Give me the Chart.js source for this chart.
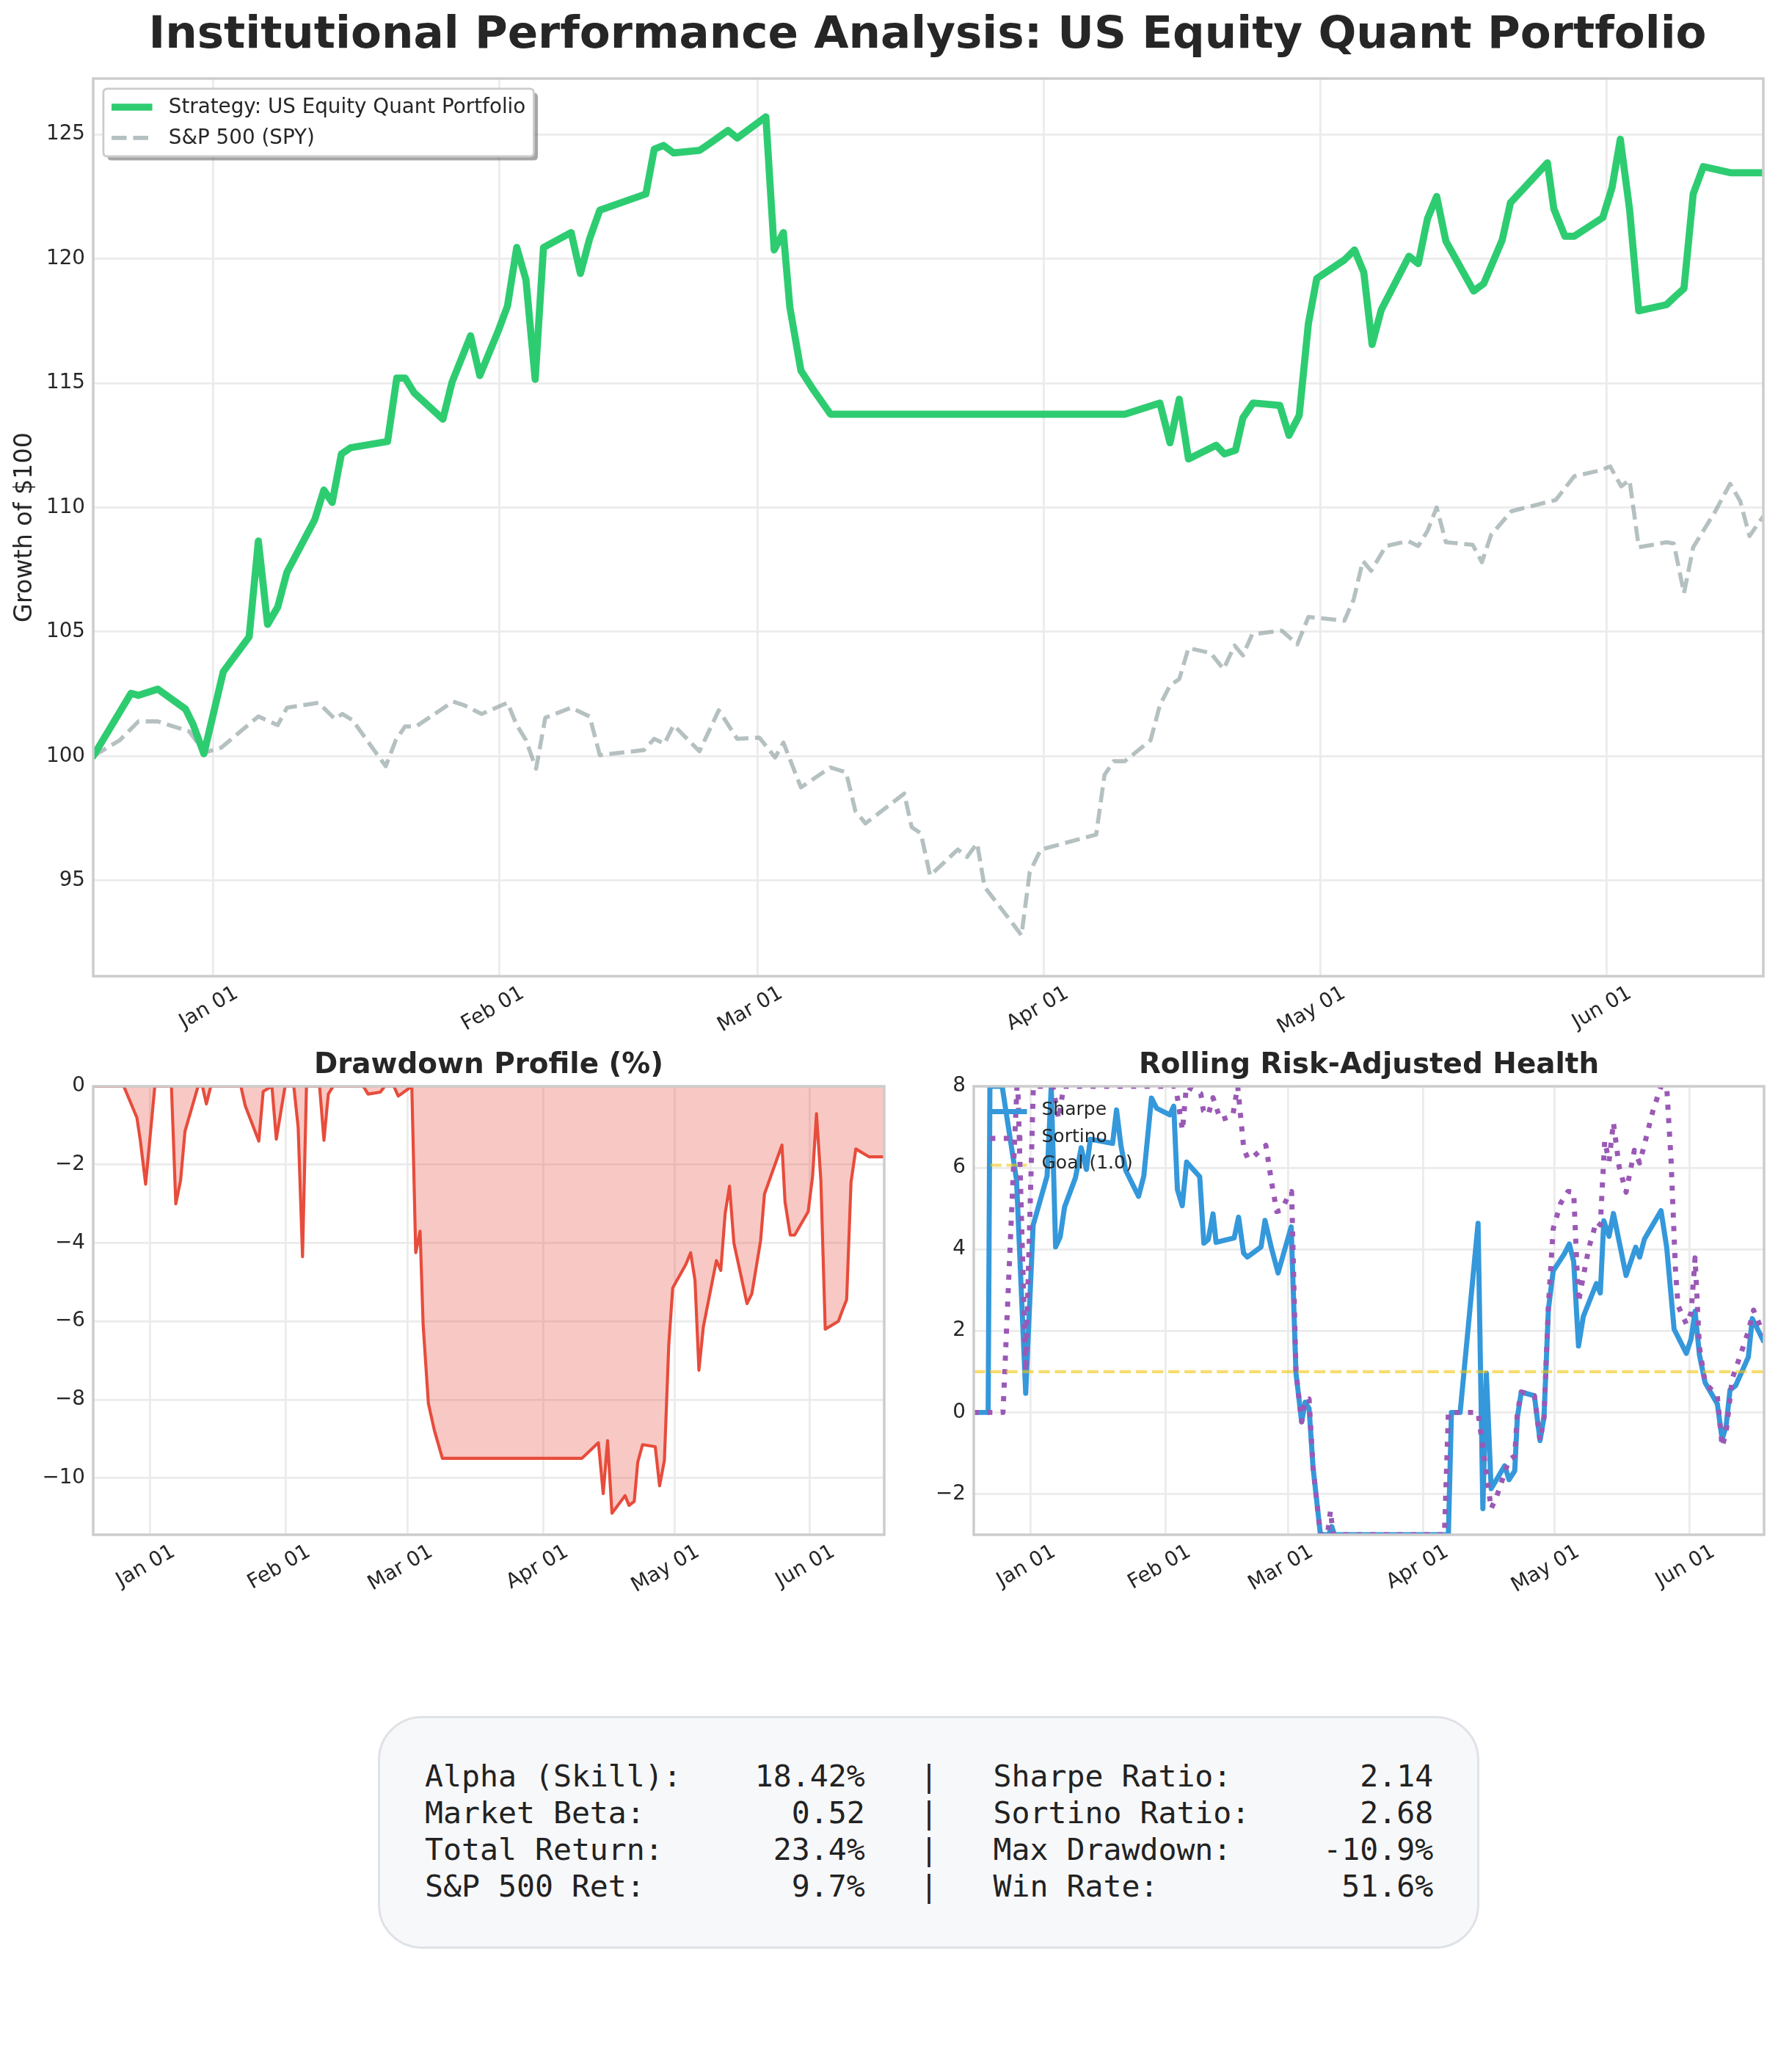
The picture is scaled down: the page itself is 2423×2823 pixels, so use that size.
<!DOCTYPE html>
<html><head><meta charset="utf-8">
<script src="https://cdn.jsdelivr.net/npm/chart.js@4.4.1/dist/chart.umd.min.js"></script>
<style>
html,body{margin:0;padding:0;background:#fff;}
body{width:2423px;height:2823px;position:relative;overflow:hidden;}
canvas{position:absolute;}
#suptitle{position:absolute;left:0;width:2528px;top:13px;text-align:center;font:bold 61.1px/61.1px 'DejaVu Sans';color:#262626;white-space:nowrap;}
#stats{position:absolute;left:515px;top:2338px;width:1501px;height:317px;box-sizing:border-box;background:#f7f8fa;border:3px solid #dfe2e6;border-radius:60px;}
#stats pre{position:absolute;left:61px;top:54px;margin:0;font:41.5px/50px 'DejaVu Sans Mono';color:#222;}
</style></head>
<body>
<div id="suptitle">Institutional Performance Analysis: US Equity Quant Portfolio</div>
<canvas id="main" width="2423" height="1440" style="left:0;top:0;width:2423px;height:1440px"></canvas>
<canvas id="dd" width="1215" height="780" style="left:0;top:1400px;width:1215px;height:780px"></canvas>
<canvas id="roll" width="1203" height="780" style="left:1220px;top:1400px;width:1203px;height:780px"></canvas>
<div id="stats"><pre></pre></div>
<script>
// ---- x axis: days counted from Jan 01 ----
const xMin = -13, xMax = 168;
const tickDays = [0, 31, 59, 90, 120, 151];
const tickLabels = ['Jan 01', 'Feb 01', 'Mar 01', 'Apr 01', 'May 01', 'Jun 01'];

// ---- Growth of $100 ----
const stratDays = [-13,-8.9,-8.1,-6.0,-3.0,-2.2,-1.0,1.1,3.9,4.9,5.9,7.0,8.0,11.0,12.0,12.9,13.9,14.9,18.9,19.9,20.8,21.8,24.9,25.9,27.9,28.9,30.9,31.9,32.9,33.9,34.9,35.8,38.8,39.8,40.8,41.9,46.9,47.8,48.8,49.9,52.7,53.7,55.8,56.8,59.9,60.8,61.8,62.5,63.7,65.1,66.9,98.8,102.6,103.7,104.7,105.7,108.7,109.6,110.8,111.6,112.7,115.6,116.6,117.7,118.7,119.6,122.6,123.7,124.7,125.6,126.6,129.6,130.6,131.6,132.6,133.6,136.6,137.7,139.7,140.6,144.6,145.3,146.5,147.5,150.6,151.6,152.5,153.5,154.5,157.5,158.5,159.4,160.4,161.5,164.5,168];
const stratVals = [100.0,102.53,102.45,102.7,101.9,101.3,100.1,103.4,104.8,108.65,105.3,106.0,107.4,109.5,110.7,110.2,112.15,112.4,112.65,115.2,115.2,114.6,113.55,115.05,116.9,115.3,117.1,118.1,120.45,119.15,115.15,120.45,121.05,119.4,120.8,121.95,122.6,124.4,124.55,124.25,124.35,124.6,125.15,124.85,125.7,120.35,121.05,118.05,115.5,114.7,113.75,113.75,114.2,112.6,114.35,111.95,112.5,112.15,112.3,113.6,114.2,114.1,112.9,113.7,117.4,119.2,119.95,120.35,119.45,116.55,117.95,120.1,119.8,121.6,122.5,120.7,118.7,119.0,120.75,122.25,123.85,122.0,120.9,120.9,121.65,122.85,124.8,122.0,117.9,118.15,118.5,118.8,122.6,123.7,123.45,123.45];
const spyDays = [-13,-10.1,-8.1,-6.0,-2.6,-0.9,0.9,4.9,7.0,8.0,11.4,13.2,14.0,15.1,18.7,19.8,20.8,22.0,26.0,27.2,29.1,31.9,32.9,33.9,35.0,36.0,38.8,40.8,41.9,46.7,47.8,48.9,49.9,52.7,54.8,56.8,59.2,60.9,61.8,63.7,66.9,68.6,69.6,70.7,74.9,75.7,76.7,77.7,80.7,81.7,82.8,83.6,86.6,87.6,88.5,89.7,92.7,95.7,96.6,97.6,98.8,101.6,102.6,103.7,104.7,105.7,108.1,109.5,110.7,111.6,112.6,115.8,117.5,118.7,122.6,123.6,124.6,125.5,127.1,129.5,130.6,131.6,132.6,133.6,136.5,137.5,138.5,140.7,145.5,147.5,150.4,151.4,152.6,153.5,154.5,157.5,158.3,159.4,160.4,162.8,164.4,165.5,166.5,168];
const spyVals = [100.0,100.65,101.4,101.4,101.0,100.15,100.35,101.6,101.25,101.95,102.15,101.5,101.7,101.45,99.6,100.65,101.2,101.2,102.2,102.05,101.7,102.15,101.25,100.65,99.5,101.55,101.95,101.6,100.05,100.25,100.7,100.5,101.25,100.2,101.85,100.7,100.75,99.95,100.55,98.75,99.55,99.35,97.8,97.3,98.5,97.15,96.9,95.2,96.25,95.95,96.5,94.75,93.3,92.8,95.35,96.25,96.55,96.85,99.25,99.8,99.8,100.65,102.05,102.85,103.1,104.35,104.15,103.5,104.45,104.05,104.9,105.05,104.5,105.6,105.45,106.3,107.85,107.45,108.45,108.65,108.45,109.05,110.0,108.6,108.5,107.8,108.9,109.85,110.3,111.25,111.5,111.65,110.85,111.1,108.4,108.6,108.55,106.55,108.4,109.85,110.95,110.25,108.85,109.65];
const mainYTicks = [95, 100, 105, 110, 115, 120, 125];

// ---- Drawdown (%) ----
const ddDays = [-13,-6.0,-3.0,-2.2,-1.0,1.1,4.9,5.9,7.0,8.0,11.0,12.0,12.9,13.9,20.8,21.8,24.9,25.9,27.9,28.9,30.9,32.9,33.9,34.9,35.8,38.8,39.8,40.8,41.9,48.8,49.9,52.7,53.7,55.8,56.8,59.9,60.8,61.8,62.5,63.7,65.1,66.9,98.8,102.6,103.7,104.7,105.7,108.7,109.6,110.8,111.6,112.7,115.6,116.6,117.7,118.7,119.6,122.6,123.7,124.7,125.6,126.6,129.6,130.6,131.6,132.6,133.6,136.6,137.7,139.7,140.6,144.6,145.3,146.5,147.5,150.6,151.6,152.5,153.5,154.5,157.5,158.5,159.4,160.4,161.5,164.5,168];
const ddVals = [0,0,-0.8,-1.4,-2.5,0,0,-3.0,-2.4,-1.15,0,0,-0.45,0,0,-0.5,-1.4,-0.13,0,-1.35,0,0,-1.05,-4.35,0,0,-1.38,-0.2,0,0,-0.2,-0.15,0,0,-0.25,0,-4.25,-3.7,-6.1,-8.1,-8.8,-9.5,-9.5,-9.1,-10.4,-9.05,-10.9,-10.45,-10.7,-10.6,-9.6,-9.15,-9.2,-10.2,-9.55,-6.6,-5.15,-4.55,-4.25,-4.95,-7.25,-6.15,-4.45,-4.7,-3.25,-2.55,-4.0,-5.55,-5.3,-3.95,-2.75,-1.5,-2.95,-3.8,-3.8,-3.2,-2.3,-0.7,-2.4,-6.2,-6.0,-5.7,-5.45,-2.45,-1.6,-1.8,-1.8];
const ddYTicks = [0, -2, -4, -6, -8, -10];

// ---- Rolling risk-adjusted health ----
const sharpeDays = [-13,-9.7,-9.3,-6.5,-3.2,-1.1,0.6,3.8,4.75,5.75,6.8,7.8,10.3,11.6,12.8,13.7,18.8,19.7,20.7,21.8,24.75,25.95,27.7,28.9,31.9,32.8,33.65,34.75,35.75,38.75,39.7,40.7,41.8,42.5,46.65,47.65,48.8,49.65,52.8,53.7,55.25,56.7,59.7,60.8,62.1,62.9,63.8,64.7,66.4,68.3,69.0,69.6,95.7,96.4,98.4,102.5,103.6,104.4,105.5,108.6,109.6,110.9,111.5,112.4,115.4,116.7,117.6,118.6,119.7,122.2,123.4,124.4,125.5,126.6,129.6,130.5,131.3,132.5,133.5,136.4,138.6,139.5,140.6,144.4,145.7,147.4,150.2,151.3,152.2,153.2,154.5,157.3,158.4,159.3,160.2,161.5,164.4,165.3,166.3,168];
const sharpeVals = [0,0,8,8,5.7,0.47,4.59,5.8,8,4.06,4.31,5.04,5.76,6.49,5.96,6.7,6.6,7.42,6.55,5.94,5.3,5.8,7.71,7.46,7.3,7.51,5.46,5.07,6.14,5.78,4.15,4.24,4.87,4.17,4.28,4.79,3.91,3.81,4.06,4.71,4.0,3.42,4.55,0.96,-0.23,0.25,0.1,-1.34,-3,-3,-2.8,-3,-3,0,0,4.64,-2.36,0.96,-1.87,-1.31,-1.65,-1.43,-0.12,0.5,0.41,-0.69,-0.12,2.52,3.47,3.88,4.13,3.7,1.63,2.35,3.16,2.93,4.7,4.32,4.88,3.36,4.05,3.81,4.25,4.95,4.05,2.04,1.45,1.81,2.48,1.41,0.73,0.21,-0.66,-0.34,0.55,0.66,1.36,2.3,2.09,1.72];
const sortinoDays = [-13,-6.3,-3.1,-2.9,-1.1,0.65,5.1,6.45,7.6,33.2,33.7,34.8,35.7,39.0,39.6,40.7,41.8,43.5,46.3,47.45,48.85,49.7,50.5,53.9,55.3,56.4,57.5,58.8,59.8,60.8,62.1,62.9,63.8,64.7,66.4,68.0,68.7,69.3,94.8,95.7,102.5,105.5,106.8,109.6,110.9,111.5,112.4,115.4,116.7,117.6,118.6,119.7,121.4,123.1,124.4,125.5,126.6,127.9,129.6,130.5,131.5,132.5,133.5,134.8,136.4,138.3,139.5,140.6,142.5,144.4,145.7,146.7,147.7,148.3,150.2,151.3,152.2,153.2,154.5,157.3,158.4,159.3,160.7,162.6,164.4,165.6,166.9,168];
const sortinoVals = [0,0,8,8,1.0,8,8,7.2,8,8,7.68,6.92,8,7.82,7.4,7.3,7.72,7.18,7.27,8,6.46,6.25,6.22,6.55,5.59,4.93,4.96,5.26,5.42,1.0,-0.23,0.3,0.33,-1.34,-3,-3,-2.41,-3,-3,0,0,-2.36,-2.05,-1.16,-1.07,0.0,0.5,0.41,-0.69,-0.12,2.6,4.5,5.13,5.42,5.4,2.7,3.34,4.05,4.68,4.6,6.66,6.16,7.11,6.03,5.4,6.43,6.12,6.57,7.38,8,8,6.2,3.52,2.62,2.17,2.45,3.79,1.6,0.73,0.4,-0.84,-0.5,0.82,1.41,1.99,2.51,2.17,1.9];
const goalLevel = 1.0;
const rollYTicks = [-2, 0, 2, 4, 6, 8];

// ---- Summary statistics ----
const statsLeftLabels = ['Alpha (Skill):', 'Market Beta:', 'Total Return:', 'S&P 500 Ret:'];
const statsLeftValues = ['18.42%', '0.52', '23.4%', '9.7%'];
const statsRightLabels = ['Sharpe Ratio:', 'Sortino Ratio:', 'Max Drawdown:', 'Win Rate:'];
const statsRightValues = ['2.14', '2.68', '-10.9%', '51.6%'];

// ---------------------------------------------------------------
const FONT = 'DejaVu Sans';
const TXT = '#262626';
const GRID = '#ebebeb';
const PT = 200 / 72;
Chart.defaults.font.family = FONT;
Chart.defaults.color = TXT;

const pts = (d, v) => d.map((x, i) => ({x: x, y: v[i]}));
const fmt = v => (v < 0 ? '\u2212' + Math.abs(v) : String(v));

function xScale(h) {
  return {
    type: 'linear', min: xMin, max: xMax,
    afterBuildTicks: s => { s.ticks = tickDays.map(v => ({value: v})); },
    afterFit: s => { s.height = h; },
    ticks: {
      callback: v => { const i = tickDays.indexOf(v); return i >= 0 ? tickLabels[i] : ''; },
      minRotation: 30, maxRotation: 30, autoSkip: false, padding: 7, labelOffset: 32,
      color: TXT, font: {family: FONT, size: 10 * PT}
    },
    grid: {color: GRID, lineWidth: 2.78, drawTicks: false},
    border: {display: false}
  };
}
function yScale(min, max, ticks, w, title) {
  return {
    type: 'linear', min: min, max: max,
    afterBuildTicks: s => { s.ticks = ticks.map(v => ({value: v})); },
    afterFit: s => { s.width = w; },
    ticks: {callback: v => fmt(v), padding: 11, color: TXT, font: {family: FONT, size: 10 * PT}},
    grid: {color: GRID, lineWidth: 2.78, drawTicks: false},
    border: {display: false},
    title: title ? {display: true, text: title, color: TXT, font: {family: FONT, size: 12 * PT}, padding: {top: 14, bottom: 0}} : {display: false}
  };
}

function roundRect(ctx, x, y, w, h, r) {
  ctx.beginPath();
  ctx.moveTo(x + r, y); ctx.lineTo(x + w - r, y); ctx.quadraticCurveTo(x + w, y, x + w, y + r);
  ctx.lineTo(x + w, y + h - r); ctx.quadraticCurveTo(x + w, y + h, x + w - r, y + h);
  ctx.lineTo(x + r, y + h); ctx.quadraticCurveTo(x, y + h, x, y + h - r);
  ctx.lineTo(x, y + r); ctx.quadraticCurveTo(x, y, x + r, y); ctx.closePath();
}

const decor = {
  id: 'decor',
  afterDatasetsDraw(chart, args, opts) {
    const ctx = chart.ctx, ca = chart.chartArea;
    ctx.save();
    ctx.strokeStyle = '#cccccc'; ctx.lineWidth = 1.25 * PT;
    ctx.strokeRect(ca.left, ca.top, ca.right - ca.left, ca.bottom - ca.top);
    ctx.restore();
    if (opts.legend) drawLegend(chart, opts.legend);
    if (opts.title) {
      ctx.save();
      ctx.font = 'bold ' + (14 * PT) + 'px ' + FONT;
      ctx.fillStyle = TXT; ctx.textAlign = 'center'; ctx.textBaseline = 'alphabetic';
      ctx.fillText(opts.title, (ca.left + ca.right) / 2, opts.titleY);
      ctx.restore();
    }
  }
};

function drawLegend(chart, L) {
  const ctx = chart.ctx, ca = chart.chartArea;
  const fs = L.fontSize;
  ctx.save();
  ctx.font = fs + 'px ' + FONT;
  const items = chart.data.datasets.filter(d => d.label && d.inLegend !== false);
  const textW = Math.max.apply(null, items.map(d => ctx.measureText(d.label).width));
  const bp = 0.4 * fs, hl = 2 * fs, htp = 0.8 * fs, ls = 0.5 * fs, bap = 0.5 * fs, rowH = L.rowH;
  const x0 = ca.left + bap, y0 = ca.top + bap;
  const w = bp + hl + htp + textW + bp;
  const h = 2 * bp + items.length * rowH + (items.length - 1) * ls;
  if (L.frame) {
    const r = 0.2 * fs, off = 2 * PT;
    ctx.fillStyle = 'rgba(77,77,77,0.5)';
    roundRect(ctx, x0 + off, y0 + off, w, h, r); ctx.fill();
    ctx.fillStyle = '#ffffff';
    roundRect(ctx, x0, y0, w, h, r); ctx.fill();
    ctx.strokeStyle = '#cccccc'; ctx.lineWidth = 1 * PT; ctx.stroke();
  }
  items.forEach((d, i) => {
    const cy = y0 + bp + rowH / 2 + i * (rowH + ls);
    ctx.beginPath();
    ctx.setLineDash(d.borderDash || []);
    ctx.lineCap = 'butt';
    ctx.strokeStyle = d.borderColor; ctx.lineWidth = d.borderWidth;
    ctx.moveTo(x0 + bp, cy); ctx.lineTo(x0 + bp + hl, cy); ctx.stroke();
    ctx.setLineDash([]);
    ctx.fillStyle = TXT; ctx.textBaseline = 'middle'; ctx.textAlign = 'left';
    ctx.fillText(d.label, x0 + bp + hl + htp, cy + L.textDy);
  });
  ctx.restore();
}

const common = {
  responsive: false, animation: false, devicePixelRatio: 1,
  elements: {point: {radius: 0, hoverRadius: 0}, line: {tension: 0, borderJoinStyle: 'round'}},
  events: []
};

// Main chart
new Chart(document.getElementById('main'), {
  type: 'line',
  data: {datasets: [
    {label: 'Strategy: US Equity Quant Portfolio', data: pts(stratDays, stratVals), borderColor: '#2ecc71', borderWidth: 3.5 * PT, borderCapStyle: 'round', fill: false, clip: 0},
    {label: 'S&P 500 (SPY)', data: pts(spyDays, spyVals), borderColor: 'rgba(149,165,166,0.7)', borderWidth: 2 * PT, borderDash: [7.4 * PT, 3.2 * PT], borderCapStyle: 'butt', fill: false, clip: 0}
  ]},
  options: Object.assign({}, common, {
    layout: {padding: {top: 107, right: 20, left: 0, bottom: 0}},
    plugins: {legend: {display: false}, tooltip: {enabled: false},
      decor: {legend: {fontSize: 10 * PT, rowH: 28, frame: true, textDy: 1}}},
    scales: {x: xScale(110), y: yScale(91.16, 127.24, mainYTicks, 127, 'Growth of $100')}
  }),
  plugins: [decor]
});

// Drawdown chart
new Chart(document.getElementById('dd'), {
  type: 'line',
  data: {datasets: [
    {label: 'Drawdown', inLegend: false, data: pts(ddDays, ddVals), borderColor: '#e74c3c', borderWidth: 1.5 * PT, fill: 'origin', backgroundColor: 'rgba(231,76,60,0.3)', clip: 0}
  ]},
  options: Object.assign({}, common, {
    layout: {padding: {top: 80, right: 10, left: 0, bottom: 0}},
    plugins: {legend: {display: false}, tooltip: {enabled: false},
      decor: {title: 'Drawdown Profile (%)', titleY: 62}},
    scales: {x: xScale(89), y: yScale(-11.45, 0, ddYTicks, 127)}
  }),
  plugins: [decor]
});

// Rolling chart
new Chart(document.getElementById('roll'), {
  type: 'line',
  data: {datasets: [
    {label: 'Sharpe', order: 2, data: pts(sharpeDays, sharpeVals), borderColor: '#3498db', borderWidth: 2.5 * PT, fill: false, clip: 0},
    {label: 'Sortino', order: 1, data: pts(sortinoDays, sortinoVals), borderColor: '#9b59b6', borderWidth: 2.5 * PT, borderDash: [2.5 * PT, 2.5 * 1.65 * PT], borderCapStyle: 'butt', fill: false, clip: 0},
    {label: 'Goal (1.0)', order: 0, data: [{x: xMin, y: goalLevel}, {x: xMax, y: goalLevel}], borderColor: 'rgba(241,196,15,0.6)', borderWidth: 1.5 * PT, borderDash: [3.7 * 1.5 * PT, 1.6 * 1.5 * PT], borderCapStyle: 'butt', fill: false, clip: 0}
  ]},
  options: Object.assign({}, common, {
    layout: {padding: {top: 80, right: 19, left: 0, bottom: 0}},
    plugins: {legend: {display: false}, tooltip: {enabled: false},
      decor: {title: 'Rolling Risk-Adjusted Health', titleY: 62, legend: {fontSize: 9 * PT, rowH: 24, frame: false, textDy: -2}}},
    scales: {x: xScale(89), y: yScale(-3, 8, rollYTicks, 107)}
  }),
  plugins: [decor]
});

// Stats box
const lines = statsLeftLabels.map((l, i) =>
  l.padEnd(16) + statsLeftValues[i].padStart(8) + '   |   ' + statsRightLabels[i].padEnd(16) + statsRightValues[i].padStart(8));
document.querySelector('#stats pre').textContent = lines.join('\n');
</script>
</body></html>
